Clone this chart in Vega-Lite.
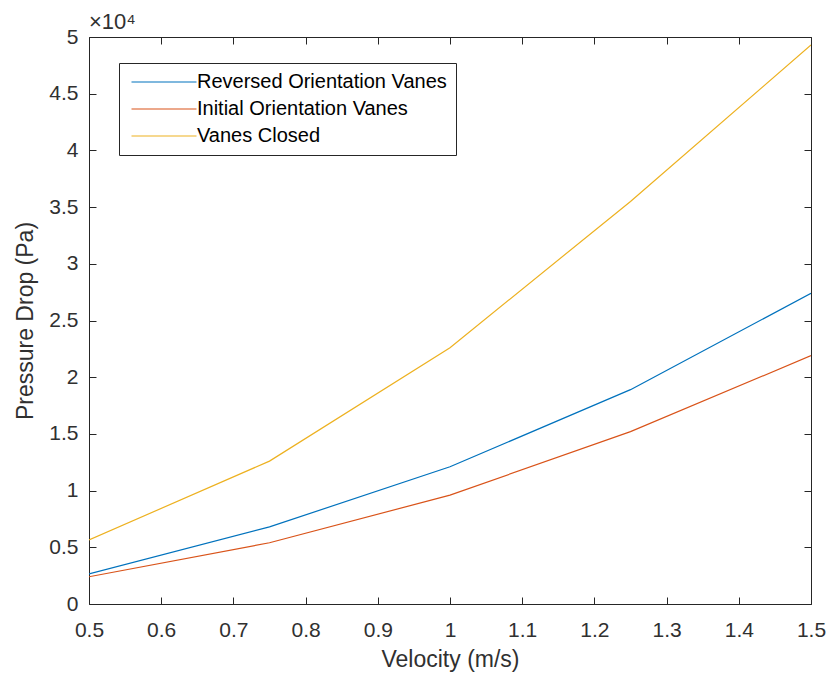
{
  "$schema": "https://vega.github.io/schema/vega-lite/v6.json",
  "width": 722,
  "height": 567,
  "autosize": {"type": "none"},
  "padding": {"left": 89, "top": 37, "right": 19, "bottom": 76},
  "background": "white",
  "title": {"text": "×10⁴", "anchor": "start", "frame": "group", "fontSize": 22, "fontWeight": "normal", "font": "Liberation Sans", "color": "#303030", "offset": -8},
  "config": {
    "view": {"stroke": null},
    "font": "Liberation Sans"
  },
  "data": {"values": [
    {"v": 0.5, "dp": 2650, "s": "Reversed Orientation Vanes"},
    {"v": 0.75, "dp": 6800, "s": "Reversed Orientation Vanes"},
    {"v": 1.0, "dp": 12100, "s": "Reversed Orientation Vanes"},
    {"v": 1.25, "dp": 18900, "s": "Reversed Orientation Vanes"},
    {"v": 1.5, "dp": 27400, "s": "Reversed Orientation Vanes"},
    {"v": 0.5, "dp": 2400, "s": "Initial Orientation Vanes"},
    {"v": 0.75, "dp": 5400, "s": "Initial Orientation Vanes"},
    {"v": 1.0, "dp": 9600, "s": "Initial Orientation Vanes"},
    {"v": 1.25, "dp": 15200, "s": "Initial Orientation Vanes"},
    {"v": 1.5, "dp": 21900, "s": "Initial Orientation Vanes"},
    {"v": 0.5, "dp": 5650, "s": "Vanes Closed"},
    {"v": 0.75, "dp": 12600, "s": "Vanes Closed"},
    {"v": 1.0, "dp": 22600, "s": "Vanes Closed"},
    {"v": 1.25, "dp": 35500, "s": "Vanes Closed"},
    {"v": 1.5, "dp": 49300, "s": "Vanes Closed"}
  ]},
  "layer": [
    {
      "mark": {"type": "line", "strokeWidth": 1.2, "clip": true},
      "encoding": {
        "x": {"field": "v", "type": "quantitative",
          "scale": {"domain": [0.5, 1.5], "nice": false, "zero": false},
          "axis": {"orient": "bottom", "title": "Velocity (m/s)", "values": [0.5,0.6,0.7,0.8,0.9,1.0,1.1,1.2,1.3,1.4,1.5], "format": "~g",
            "grid": false, "domainColor": "#262626", "tickColor": "#262626", "tickSize": -7, "labelPadding": 22,
            "labelFontSize": 21, "labelColor": "#303030", "labelFlush": false, "labelOverlap": false,
            "titleFontSize": 23, "titleFontWeight": "normal", "titleColor": "#303030", "titlePadding": 8}},
        "y": {"field": "dp", "type": "quantitative",
          "scale": {"domain": [0, 50000], "nice": false},
          "axis": {"orient": "left", "title": "Pressure Drop (Pa)", "values": [0,5000,10000,15000,20000,25000,30000,35000,40000,45000,50000],
            "labelExpr": "datum.value / 10000 + ''",
            "grid": false, "domainColor": "#262626", "tickColor": "#262626", "tickSize": -7, "labelPadding": 18,
            "labelFontSize": 21, "labelColor": "#303030", "labelFlush": false, "labelOverlap": false,
            "titleFontSize": 23, "titleFontWeight": "normal", "titleColor": "#303030", "titlePadding": 11}},
        "color": {"field": "s", "type": "nominal",
          "scale": {"domain": ["Reversed Orientation Vanes", "Initial Orientation Vanes", "Vanes Closed"], "range": ["#0072BD", "#D95319", "#EDB120"]},
          "legend": {"title": null, "orient": "none", "legendX": 30, "legendY": 26,
            "symbolType": "M-6.5,0H6.5", "symbolSize": 100, "symbolStrokeWidth": 1.2, "symbolOffset": 26,
            "labelOffset": 23, "labelFontSize": 20, "labelColor": "#000000", "labelLimit": 400,
            "padding": 9, "rowPadding": 7, "strokeColor": "#262626", "fillColor": "white", "cornerRadius": 0}}
      }
    },
    {
      "mark": {"type": "line", "opacity": 0},
      "encoding": {
        "x": {"field": "v", "type": "quantitative",
          "axis": {"orient": "top", "title": null, "labels": false, "values": [0.5,0.6,0.7,0.8,0.9,1.0,1.1,1.2,1.3,1.4,1.5],
            "grid": false, "domainColor": "#262626", "tickColor": "#262626", "tickSize": -7}},
        "y": {"field": "dp", "type": "quantitative",
          "axis": {"orient": "right", "title": null, "labels": false, "values": [0,5000,10000,15000,20000,25000,30000,35000,40000,45000,50000],
            "grid": false, "domainColor": "#262626", "tickColor": "#262626", "tickSize": -7}},
        "detail": {"field": "s"}
      }
    }
  ]
}
